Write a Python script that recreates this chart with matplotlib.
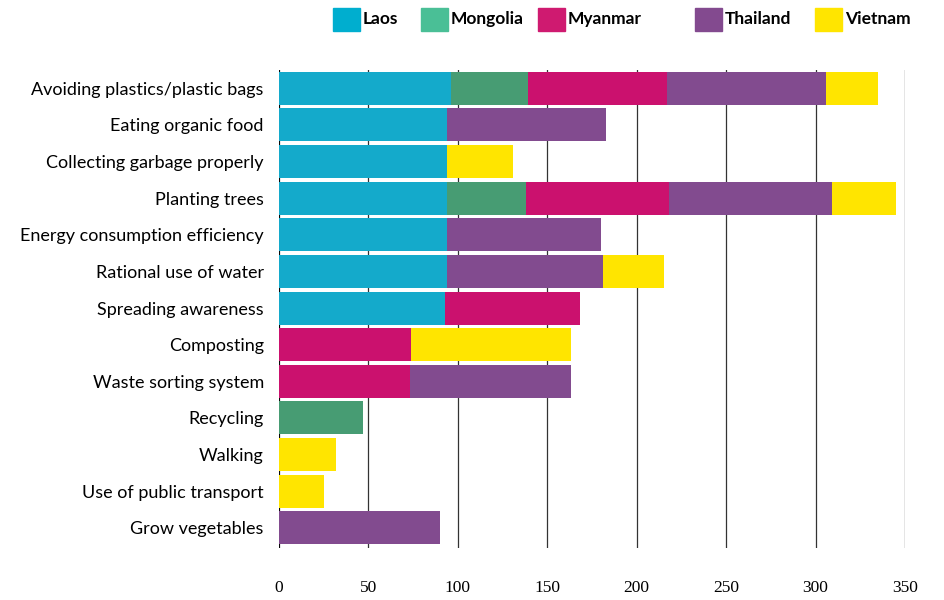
import numpy as np
import matplotlib
matplotlib.use("Agg")
import matplotlib.pyplot as plt
from matplotlib.patches import Rectangle

# Actions taken for the environment, counted per country
actions = [
    "Avoiding plastics/plastic bags",
    "Eating organic food",
    "Collecting garbage properly",
    "Planting trees",
    "Energy consumption efficiency",
    "Rational use of water",
    "Spreading awareness",
    "Composting",
    "Waste sorting system",
    "Recycling",
    "Walking",
    "Use of public transport",
    "Grow vegetables",
]
countries = ["Laos", "Mongolia", "Myanmar", "Thailand", "Vietnam"]

laos     = [96, 94, 94, 94, 94, 94, 93, 0, 0, 0, 0, 0, 0]
mongolia = [43, 0, 0, 44, 0, 0, 0, 0, 0, 47, 0, 0, 0]
myanmar  = [78, 0, 0, 80, 0, 0, 75, 74, 73, 0, 0, 0, 0]
thailand = [89, 89, 0, 91, 86, 87, 0, 0, 90, 0, 0, 0, 90]
vietnam  = [29, 0, 37, 36, 0, 34, 0, 89, 0, 0, 32, 25, 0]

bar_colors = ["#14AACB", "#479C73", "#CB116E", "#824B8F", "#FFE500"]
legend_colors = ["#00AECF", "#4ABF96", "#CF1A70", "#834A8F", "#FFE500"]

fig = plt.figure(figsize=(9.44, 6), dpi=100)
ax = fig.add_axes([0.2956, 0.0867, 0.9587 - 0.2956, 0.7966])

y = np.arange(len(actions))
left = np.zeros(len(actions))
for vals, col in zip([laos, mongolia, myanmar, thailand, vietnam], bar_colors):
    vals = np.array(vals, dtype=float)
    ax.barh(y, vals, left=left, height=0.9, color=col, zorder=3)
    left += vals

ax.set_xlim(0, 350)
ax.set_ylim(12.55, -0.5)
ax.set_xticks(np.arange(0, 351, 50))
ax.grid(True, axis="x", color="#333333", linewidth=0.9, zorder=0)
ax.axvline(0, color="black", linewidth=1.2, zorder=2)

ax.set_yticks(y)
ax.set_yticklabels(actions, fontfamily="Lato", fontsize=13)
ax.tick_params(axis="y", length=0, pad=11)
ax.tick_params(axis="x", length=0, pad=23)
for lab in ax.get_xticklabels():
    lab.set_fontfamily("Liberation Serif")
    lab.set_fontsize(12.5)

for side in ["top", "right", "bottom", "left"]:
    ax.spines[side].set_visible(False)

# legend across the top, drawn by hand to keep the uneven spacing
legend_x = [333, 421, 538, 695, 815]
for x0, name, col in zip(legend_x, countries, legend_colors):
    fig.patches.append(Rectangle((x0 / 944, 1 - 31 / 600), 27 / 944, 23 / 600,
                                 transform=fig.transFigure, color=col))
    fig.text((x0 + 30) / 944, 1 - 19 / 600, name, fontfamily="Lato",
             fontweight="bold", fontsize=12.5, va="center", ha="left")

fig.savefig("out.png", dpi=100)
